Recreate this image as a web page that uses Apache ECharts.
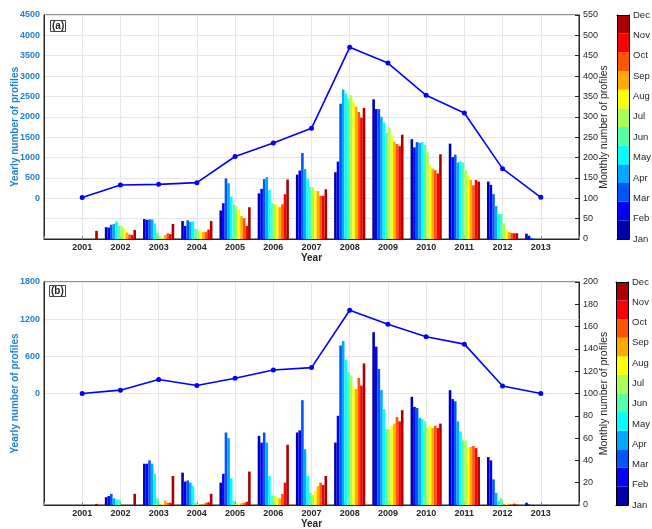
<!DOCTYPE html>
<html>
<head>
<meta charset="utf-8">
<script src="https://cdn.jsdelivr.net/npm/echarts@6/dist/echarts.min.js"></script>
<style>html,body{margin:0;padding:0;background:#fff}#c{width:652px;height:529px}</style>
</head>
<body>
<div id="c"></div>
<script>
const years = ['2000','2001','2002','2003','2004','2005','2006','2007','2008','2009','2010','2011','2012','2013','2014'];
const months = ['Jan','Feb','Mar','Apr','May','Jun','Jul','Aug','Sep','Oct','Nov','Dec'];
const monthColors = ['#0000AA','#0000FF','#0055FF','#00AAFF','#00FFFF','#55FFAA','#AAFF55','#FFFF00','#FFAA00','#FF5500','#FF0000','#AA0000'];

// Panel (a): yearly totals 2001-2013
const yearlyA = [20, 325, 342, 383, 1025, 1358, 1717, 3706, 3321, 2528, 2094, 727, 23];
// Panel (a): monthly values per year (Jan..Dec)
const a2001 = [0,0,0,0,0,0,0,0,0,0,0,20];
const a2002 = [29,28,35,37,43,32,31,26,16,11,10,22];
const a2003 = [49,47,48,48,38,16,7,3,10,14,12,37];
const a2004 = [44,32,46,42,43,25,21,18,17,17,23,44];
const a2005 = [70,88,149,137,104,84,80,73,56,51,32,78];
const a2006 = [112,123,147,152,120,88,86,83,78,85,110,146];
const a2007 = [158,168,211,172,148,128,127,118,118,106,106,122];
const a2008 = [164,190,332,367,357,345,353,336,325,312,298,322];
const a2009 = [343,319,319,300,286,261,274,254,239,233,228,256];
const a2010 = [245,225,238,236,238,231,213,182,173,169,161,208];
const a2011 = [234,201,207,188,191,188,169,156,145,132,145,141];
const a2012 = [141,133,110,81,61,61,39,24,17,15,14,14];
const a2013 = [13,8,2,1,0,0,0,0,0,0,0,0];

// Panel (b): yearly totals 2001-2013
const yearlyB = [0, 54, 225, 129, 246, 380, 418, 1344, 1118, 915, 797, 121, 0];
const b2001 = [0,0,0,0,0,0,0,0,0,0,0,1];
const b2002 = [7,8,10,6,5,5,0,0,0,0,0,10];
const b2003 = [37,37,40,37,28,6,0.5,1,4,2,2,26];
const b2004 = [29,21,22,20,17,2,1,0.3,0.3,2,2.5,10];
const b2005 = [20,28,65,60,24,4,1,1,1.5,2,3,30];
const b2006 = [62,56,65,56,26,8,8,7.5,6,10,20,54];
const b2007 = [65,67,94,50,26,11,9,13,17,20,18,26];
const b2008 = [56,80,143,147,130,119,116,106,104,114,107,127];
const b2009 = [155,142,122,103,86,68,68,71,73,79,75,85];
const b2010 = [97,88,87,78,77,75,69,71,69,71,69,73];
const b2011 = [103,95,93,75,66,58,58,51,52,53,51,43];
const b2012 = [43,40,23,11,4,6,0.3,1,0.3,0.3,1.2,0.3];
const b2013 = [2,0.5,0,0,0,0,0,0,0,0,0,0];

const monthlyA = [a2001,a2002,a2003,a2004,a2005,a2006,a2007,a2008,a2009,a2010,a2011,a2012,a2013];
const monthlyB = [b2001,b2002,b2003,b2004,b2005,b2006,b2007,b2008,b2009,b2010,b2011,b2012,b2013];

const FONT = 'Liberation Sans, Arial, Helvetica, sans-serif';
const BLUE_LBL = '#1f80d0';
const DARK = '#262626';
const GRID = '#e6e6e6';

function pad(arr){ return [null].concat(arr).concat([null]); }

function xAxisMain(gi){
  return {
    type:'category', gridIndex:gi, data:years, boundaryGap:false, position:'bottom',
    axisLine:{show:true, onZero:false, lineStyle:{color:DARK, width:1}},
    axisTick:{show:true, inside:true, length:3, lineStyle:{color:'#888'}},
    axisLabel:{interval:0, margin:4, fontFamily:FONT, fontSize:9, fontWeight:'bold', color:DARK,
      formatter:v => (v==='2000'||v==='2014') ? '' : v},
    splitLine:{show:true, lineStyle:{color:GRID}},
    name:'Year', nameLocation:'middle', nameGap:14, nameMoveOverlap:false,
    nameTextStyle:{fontFamily:FONT, fontSize:10, fontWeight:'bold', color:DARK}
  };
}

function cbX(gi, pos){
  return {type:'category', gridIndex:gi, data:['c'], position:pos, show:true, z:5,
    axisLine:{show:true, onZero:false, lineStyle:{color:'#000'}}, axisTick:{show:false}, axisLabel:{show:false}, splitLine:{show:false}};
}
const xAxes = [xAxisMain(0), xAxisMain(1), cbX(2,'bottom'), cbX(2,'top'), cbX(3,'bottom'), cbX(3,'top')];

function leftAxis(gi, min, max, interval, splitColors){
  return {
    type:'value', gridIndex:gi, position:'left', min:min, max:max, interval:interval,
    axisLine:{show:true, onZero:false, lineStyle:{color:DARK}},
    axisTick:{show:false},
    axisLabel:{margin:4, fontFamily:FONT, fontSize:9, fontWeight:'bold', color:BLUE_LBL,
      formatter:v => v < 0 ? '' : String(v)},
    splitLine:splitColors ? {show:true, lineStyle:{color:splitColors}} : {show:false},
    name:'Yearly number of profiles', nameLocation:'middle', nameGap:24, nameRotate:90, nameMoveOverlap:false,
    nameTextStyle:{fontFamily:FONT, fontSize:10, fontWeight:'bold', color:BLUE_LBL}
  };
}
function rightAxis(gi, max, interval, split){
  return {
    type:'value', gridIndex:gi, position:'right', min:0, max:max, interval:interval,
    axisLine:{show:true, onZero:false, lineStyle:{color:DARK}},
    axisTick:{show:true, inside:true, length:4, lineStyle:{color:DARK}},
    axisLabel:{margin:4, fontFamily:FONT, fontSize:9, color:DARK},
    splitLine:{show:split, lineStyle:{color:GRID}},
    name:'Monthly number of profiles', nameLocation:'middle', nameGap:20, nameRotate:90, nameMoveOverlap:false,
    nameTextStyle:{fontFamily:FONT, fontSize:10.5, color:DARK}
  };
}
function cbHidden(gi){
  return {type:'value', gridIndex:gi, min:0, max:12, position:'left', z:5,
    axisLine:{show:true, onZero:false, lineStyle:{color:'#000'}}, axisTick:{show:false}, axisLabel:{show:false}, splitLine:{show:false}};
}
function cbLabels(gi){
  return {type:'value', gridIndex:gi, min:0, max:11, interval:1, position:'right', z:5,
    axisLine:{show:true, onZero:false, lineStyle:{color:'#000'}}, axisTick:{show:false}, splitLine:{show:false},
    axisLabel:{margin:4, fontFamily:FONT, fontSize:9.5, color:DARK, formatter:v => months[v]}};
}

const hideNeg = 'rgba(0,0,0,0)';
const yAxes = [
  leftAxis(0, -1000, 4500, 500, null),
  rightAxis(0, 550, 50, true),
  leftAxis(1, -1800, 1800, 600, [hideNeg, hideNeg, hideNeg, GRID, GRID, GRID, GRID]),
  rightAxis(1, 200, 20, false),
  cbHidden(2), cbLabels(2), cbHidden(3), cbLabels(3)
];

const series = [];
function addPanel(monthly, yearly, xi, yiLeft, yiRight){
  for (let m = 0; m < 12; m++){
    series.push({
      type:'bar', name:months[m], xAxisIndex:xi, yAxisIndex:yiRight,
      data: pad(monthly.map(r => r[m])),
      barWidth:2.6, barGap:'0%', itemStyle:{color:monthColors[m]}, silent:true, z:2
    });
  }
  series.push({
    type:'line', xAxisIndex:xi, yAxisIndex:yiLeft, data:pad(yearly),
    symbol:'circle', symbolSize:5, itemStyle:{color:'#0000ff'},
    lineStyle:{color:'#0000ff', width:1.6}, z:6, silent:true
  });
}
addPanel(monthlyA, yearlyA, 0, 0, 1);
addPanel(monthlyB, yearlyB, 1, 2, 3);
function addColorbar(xi, yi){
  for (let m = 0; m < 12; m++){
    series.push({type:'bar', xAxisIndex:xi, yAxisIndex:yi, stack:'cb'+xi, data:[1],
      barWidth:'100%', itemStyle:{color:monthColors[m]}, silent:true, z:2});
  }
}
addColorbar(2, 4);
addColorbar(4, 6);

const gridBase = {containLabel:false, outerBoundsMode:'none'};
const option = {
  animation:false,
  backgroundColor:'#fff',
  textStyle:{fontFamily:FONT},
  title:[
    {text:'(a)', left:50, top:20, borderWidth:1, borderColor:'#444', padding:[1,2,0,2],
      textStyle:{fontFamily:FONT, fontSize:10, fontWeight:'bold', color:DARK, lineHeight:11}},
    {text:'(b)', left:49, top:285, borderWidth:1, borderColor:'#444', padding:[1,2,0,2],
      textStyle:{fontFamily:FONT, fontSize:10, fontWeight:'bold', color:DARK, lineHeight:11}}
  ],
  grid:[
    Object.assign({left:44, top:15, width:535, height:224, show:true, borderColor:DARK, borderWidth:1}, gridBase),
    Object.assign({left:44, top:282, width:535, height:223, show:true, borderColor:DARK, borderWidth:1}, gridBase),
    Object.assign({left:617, top:15, width:12, height:224}, gridBase),
    Object.assign({left:616, top:282, width:12, height:223}, gridBase)
  ],
  xAxis:xAxes,
  yAxis:yAxes,
  series:series
};
const chart = echarts.init(document.getElementById('c'), null, {renderer:'canvas'});
chart.setOption(option);
</script>
</body>
</html>
